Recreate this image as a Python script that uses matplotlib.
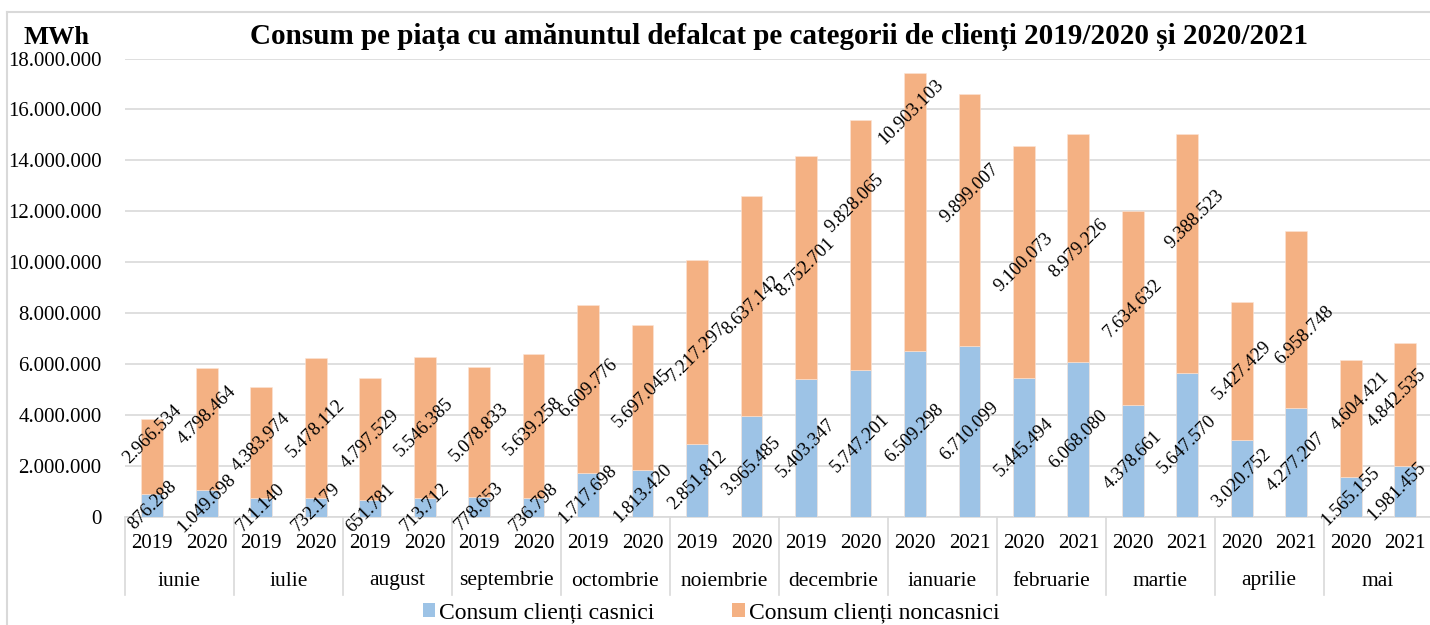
import matplotlib
matplotlib.use("Agg")
import matplotlib.pyplot as plt
import matplotlib.transforms as mtransforms
from matplotlib.patches import Patch
from matplotlib.lines import Line2D
import numpy as np

months = ["iunie", "iulie", "august", "septembrie", "octombrie", "noiembrie",
          "decembrie", "ianuarie", "februarie", "martie", "aprilie", "mai"]
years = ["2019", "2020", "2019", "2020", "2019", "2020", "2019", "2020",
         "2019", "2020", "2019", "2020", "2019", "2020", "2020", "2021",
         "2020", "2021", "2020", "2021", "2020", "2021", "2020", "2021"]
casnici = [876288, 1049698, 711140, 732179, 651781, 713712, 778653, 736798,
           1717698, 1813420, 2851812, 3965485, 5403347, 5747201, 6509298, 6710099,
           5445494, 6068080, 4378661, 5647570, 3020752, 4277207, 1565155, 1981455]
noncasnici = [2966534, 4798464, 4383974, 5478112, 4797529, 5546385, 5078833, 5639258,
              6609776, 5697045, 7217297, 8637142, 8752701, 9828065, 10903103, 9899007,
              9100073, 8979226, 7634632, 9388523, 5427429, 6958748, 4604421, 4842535]
series_names = ["Consum clienți casnici", "Consum clienți noncasnici"]
title = "Consum pe piața cu amănuntul defalcat pe categorii de clienți 2019/2020 și 2020/2021"
unit = "MWh"

# label nudges (pixels) to mirror the reference label layout
non_nudge = {0: (0, 22), 1: (0, 13), 13: (-6, 42), 14: (-4, 100), 15: (0, 27),
             19: (7, 34), 21: (8, -16), 22: (9, 17), 23: (-8, 6)}
cas_nudge = {23: (-8, 0)}

C_BLUE = "#9DC3E6"
C_ORANGE = "#F4B183"
GRID = "#D9D9D9"
FONT = "Liberation Serif"

plt.rcParams["font.family"] = [FONT, "DejaVu Serif"]

W, H = 1430, 625
fig = plt.figure(figsize=(W / 100, H / 100), dpi=100)
ax_l, ax_r, ax_t, ax_b = 125, 1432.5, 58.5, 516.5
ax = fig.add_axes([ax_l / W, (H - ax_b) / H, (ax_r - ax_l) / W, (ax_b - ax_t) / H])

n = len(casnici)
x = np.arange(n)
bw = 0.4
cas = np.array(casnici)
non = np.array(noncasnici)
ax.bar(x, cas, bw, color=C_BLUE, edgecolor="#FBE5D6", linewidth=0.4, zorder=3)
ax.bar(x, non, bw, bottom=cas, color=C_ORANGE, edgecolor="#FBE5D6", linewidth=0.4, zorder=3)

def fmt(v):
    return f"{v:,}".replace(",", ".")

LBL = 13.5
for i in range(n):
    cdx, cdy = cas_nudge.get(i, (0, 0))
    ax.annotate(fmt(cas[i]), (x[i], cas[i] / 2), xytext=(cdx, cdy), textcoords="offset pixels",
                ha="center", va="center", rotation=45, rotation_mode="anchor",
                fontsize=LBL, zorder=5)
    dx, dy = non_nudge.get(i, (0, 0))
    ax.annotate(fmt(non[i]), (x[i], cas[i] + non[i] / 2), xytext=(dx, dy),
                textcoords="offset pixels", ha="center", va="center", rotation=45,
                rotation_mode="anchor", fontsize=LBL, zorder=5)

ax.set_xlim(-0.5, n - 0.5)
ax.set_ylim(0, 18000000)
ax.set_yticks(np.arange(0, 18000001, 2000000))
ax.set_yticklabels([fmt(int(v)) for v in np.arange(0, 18000001, 2000000)], fontsize=15)
ax.yaxis.grid(True, color=GRID, linewidth=1.2, zorder=0)
ax.set_axisbelow(True)
ax.tick_params(axis="y", length=0, pad=17)
ax.tick_params(axis="x", length=0)
ax.set_xticks([])
for s in ["top", "right", "left"]:
    ax.spines[s].set_visible(False)
ax.spines["bottom"].set_color(GRID)
ax.spines["bottom"].set_linewidth(1.2)

# category table below axis
tr = mtransforms.blended_transform_factory(ax.transData, ax.transAxes)
y_sep = (ax_b - 595) / (ax_b - ax_t)
y_year = (ax_b - 544) / (ax_b - ax_t)
y_month = (ax_b - 581) / (ax_b - ax_t)
for g in range(len(months) + 1):
    xv = g * 2 - 0.5
    ax.add_line(Line2D([xv, xv], [0, y_sep], transform=tr, color=GRID, linewidth=1.2,
                       clip_on=False))
for i in range(n):
    ax.text(x[i], y_year, years[i], transform=tr, ha="center", va="center", fontsize=15)
for g, m in enumerate(months):
    ax.text(g * 2 + 0.5, y_month, m, transform=tr, ha="center", va="center", fontsize=15.5)

# title and unit
fig.text(779 / W, 1 - 37 / H, title, ha="center", va="center", fontsize=21,
         fontweight="bold")
fig.text(57 / W, 1 - 37 / H, unit, ha="center", va="center", fontsize=19,
         fontweight="bold")

# legend
handles = [Patch(facecolor=C_BLUE, edgecolor="none"), Patch(facecolor=C_ORANGE, edgecolor="none")]
fig.legend(handles, series_names, loc="center", bbox_to_anchor=(711 / W, 1 - 613 / H),
           ncol=2, frameon=False, fontsize=17, handlelength=0.55, handleheight=0.55,
           handletextpad=0.15, columnspacing=3.3, borderpad=0)

# chart border (left and top visible)
fig.add_artist(Line2D([7 / W, 7 / W], [0, 1 - 12 / H], transform=fig.transFigure,
                      color=GRID, linewidth=1.5))
fig.add_artist(Line2D([7 / W, 1], [1 - 12 / H, 1 - 12 / H], transform=fig.transFigure,
                      color=GRID, linewidth=1.5))

fig.savefig("out.png", dpi=100)
